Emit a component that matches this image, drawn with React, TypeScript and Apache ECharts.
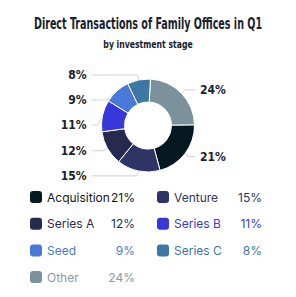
import React, { useEffect, useRef } from "react";
import * as echarts from "echarts";

const categories = ["Other", "Acquisition", "Venture", "Series A", "Series B", "Seed", "Series C"];
const values = [24, 21, 15, 12, 11, 9, 8];
const sliceColors = ["#7b919c", "#061920", "#2e3566", "#272a4f", "#3838da", "#4a78d6", "#3d77a6"];
const legendTextColors = ["#8a9aa4", "#0d1a22", "#2e3566", "#272a4f", "#3838da", "#4a78d6", "#3d77a6"];
const legendColumn1 = ["Acquisition", "Series A", "Seed", "Other"];
const legendColumn2 = ["Venture", "Series B", "Series C"];
const titleText = "Direct Transactions of Family Offices in Q1";
const subtitleText = "by investment stage";

const narrow = "'DejaVu Sans Condensed', 'DejaVu Sans', sans-serif";
const legendFont = "Inter, 'Noto Sans', sans-serif";

export default function App() {
  const ref = useRef<HTMLDivElement>(null);
  useEffect(() => {
    if (!ref.current) return;
    const chart = echarts.init(ref.current, undefined, { renderer: "svg" });
    const valueOf: Record<string, number> = {};
    const textColorOf: Record<string, string> = {};
    categories.forEach((c, i) => {
      valueOf[c] = values[i];
      textColorOf[c] = legendTextColors[i];
    });
    const makeLegend = (names: string[], left: number) => ({
      orient: "vertical",
      left,
      top: 190,
      padding: 0,
      itemWidth: 12,
      itemHeight: 12,
      itemGap: 12.7,
      icon: "roundRect",
      itemStyle: { borderWidth: 0 },
      data: names.map((n) => ({ name: n, textStyle: { color: textColorOf[n] } })),
      formatter: (n: string) => `{n|${n}}{v|${valueOf[n]}%}`,
      textStyle: {
        fontFamily: legendFont,
        fontSize: 12,
        lineHeight: 14,
        rich: {
          n: { width: 62, fontFamily: legendFont, fontSize: 12 },
          v: { width: 26, align: "right", fontFamily: legendFont, fontSize: 12 },
        },
      },
    });
    chart.setOption({
      animation: false,
      color: sliceColors,
      graphic: [
        {
          type: "text",
          x: 148,
          y: 23,
          scaleX: 0.665,
          style: {
            text: titleText,
            fontFamily: narrow,
            fontWeight: "bold",
            fontSize: 16,
            fill: "#17222c",
            align: "center",
            verticalAlign: "middle",
          },
        },
        {
          type: "text",
          x: 148,
          y: 44,
          scaleX: 0.78,
          style: {
            text: subtitleText,
            fontFamily: narrow,
            fontWeight: "bold",
            fontSize: 11,
            fill: "#17222c",
            align: "center",
            verticalAlign: "middle",
          },
        },
      ],
      legend: [makeLegend(legendColumn1, 30), makeLegend(legendColumn2, 157)],
      series: [
        {
          type: "pie",
          center: [148, 125.5],
          radius: [23.5, 46.5],
          startAngle: 87,
          clockwise: true,
          itemStyle: { borderColor: "#ffffff", borderWidth: 1 },
          label: {
            show: true,
            position: "outer",
            alignTo: "labelLine",
            formatter: "{c}%",
            fontFamily: narrow,
            fontWeight: "bold",
            fontSize: 12,
            lineHeight: 13,
            padding: [2, 0, 8, 0],
            color: "#17222c",
            distanceToLabelLine: 5,
          },
          labelLine: {
            show: true,
            length: 5,
            length2: 6,
            lineStyle: { color: "#cfd3d6", width: 1 },
          },
          emphasis: { disabled: true },
          data: categories.map((c, i) => ({ name: c, value: values[i] })),
        },
      ],
    });
    return () => chart.dispose();
  }, []);
  return (
    <div
      ref={ref}
      style={{ position: "fixed", left: 0, top: 0, width: 296, height: 297, background: "#fff" }}
    />
  );
}
